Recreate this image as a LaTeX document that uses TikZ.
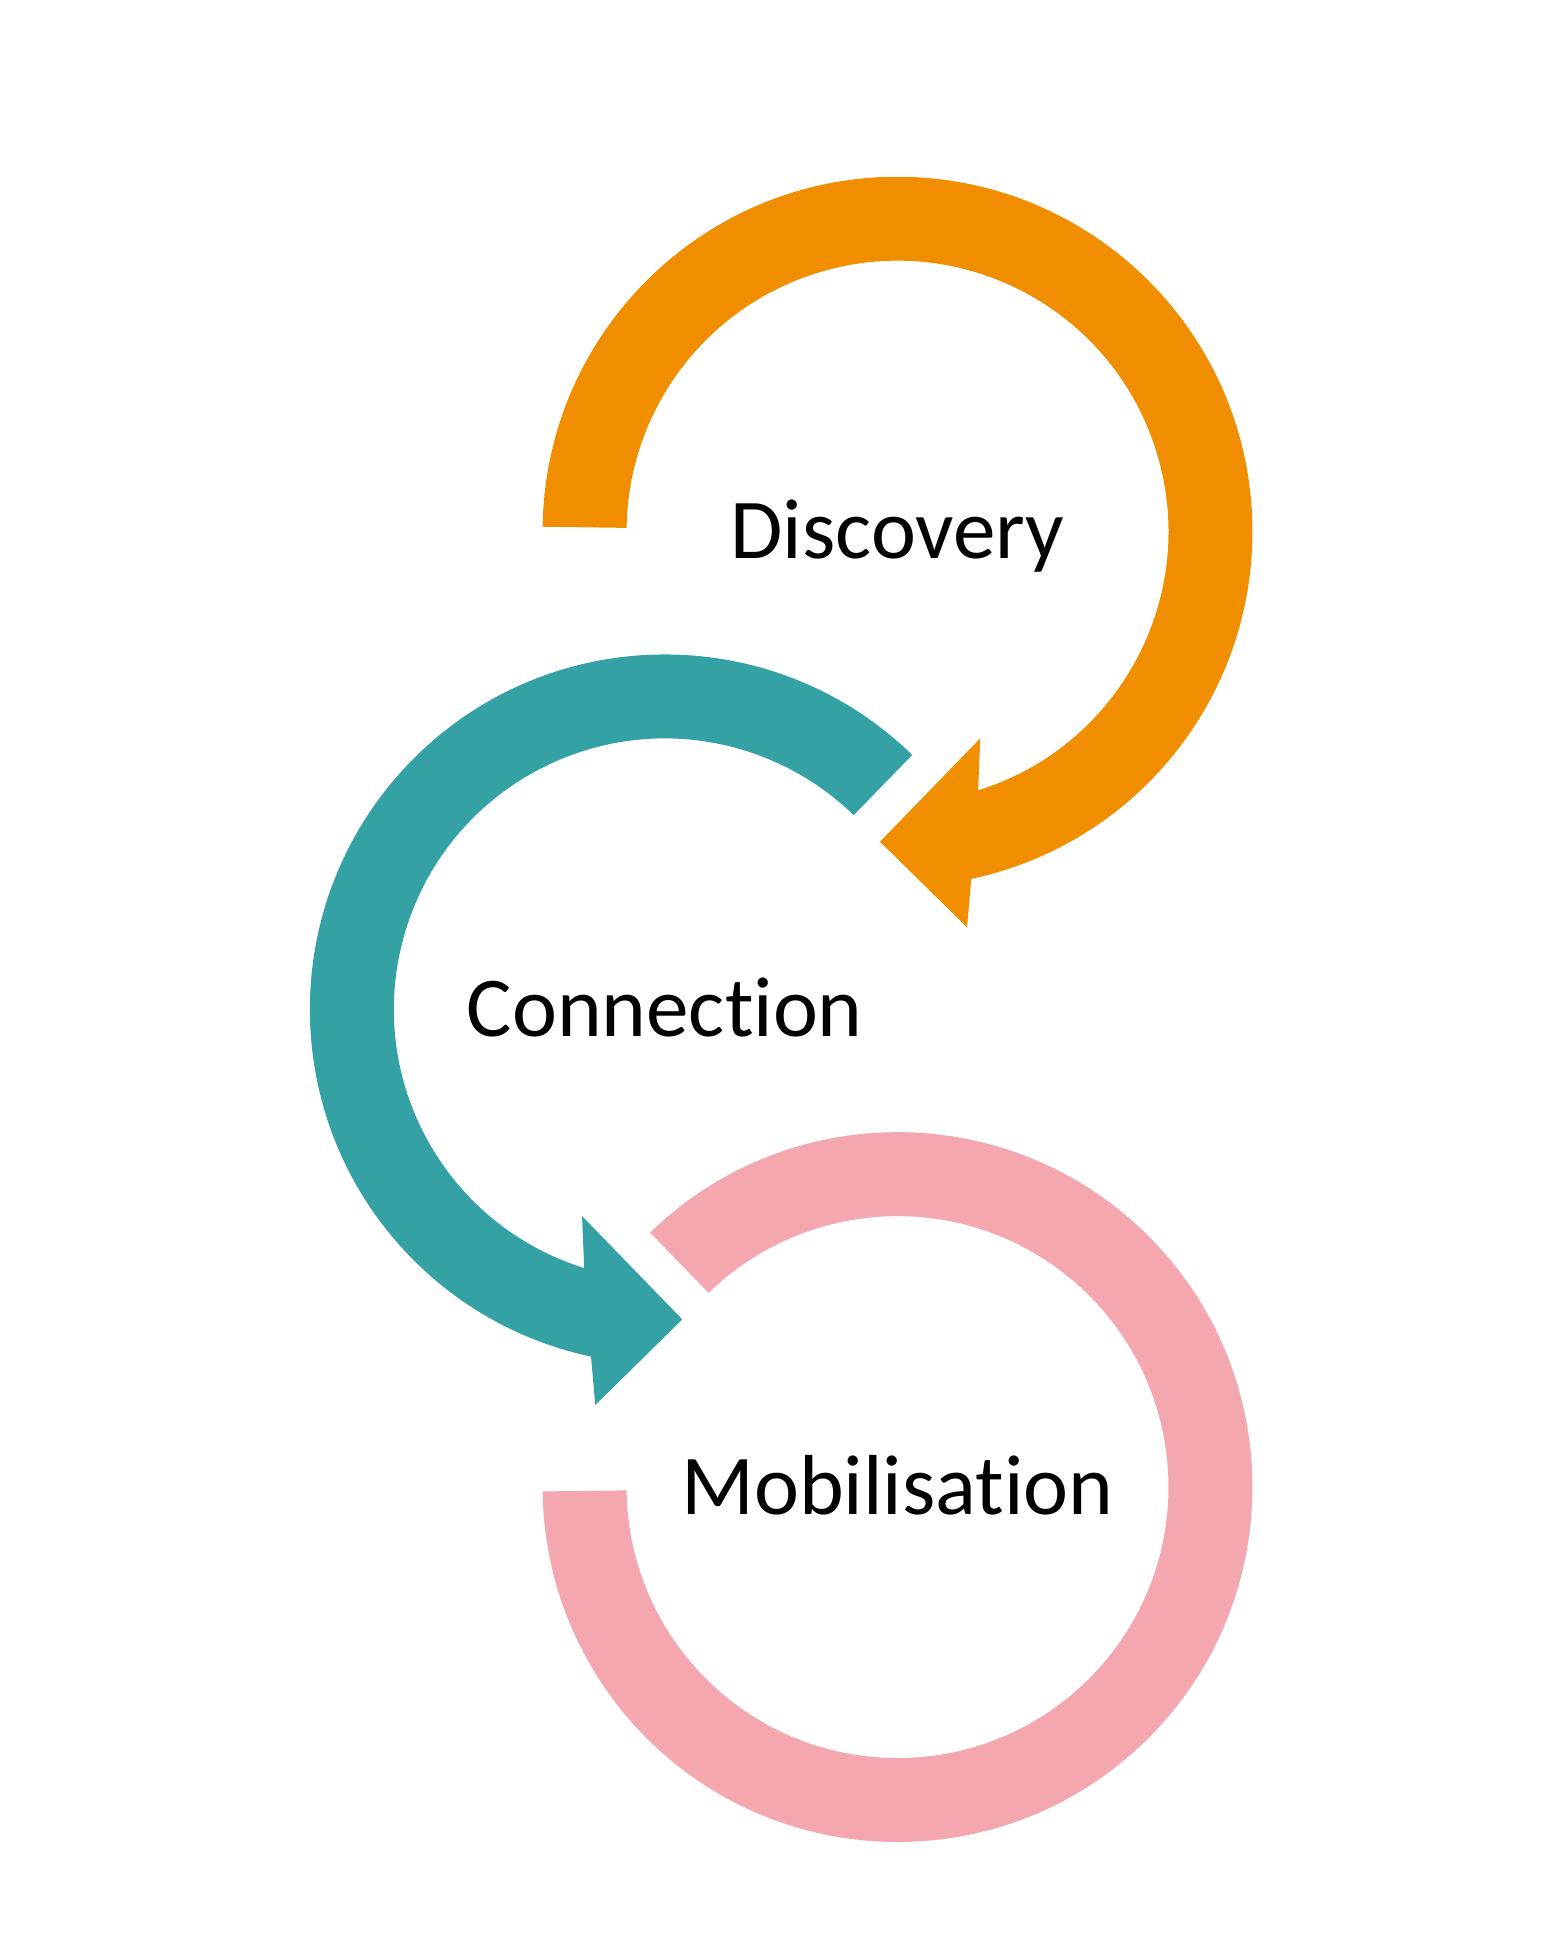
\documentclass[tikz,border=0pt]{standalone}
\usepackage{fontspec}
\setmainfont{Carlito}[Ligatures=NoCommon]
\definecolor{disco}{HTML}{F18E00}
\definecolor{conn}{HTML}{34A1A4}
\definecolor{mobil}{HTML}{F4A7AE}
\newcommand{\nolig}{\kern0pt } % keeps t and i apart
\tikzset{lbl/.style={anchor=base, yshift=-0.54cm, font=\fontsize{48.5}{58}\selectfont}}
\begin{document}
\begin{tikzpicture}[x=0.02cm, y=0.02cm] % 1 unit = 1 pixel
  \useasboundingbox (0,0) rectangle (1562,1956); % page size
  \coordinate (D) at (897.5,1424.3); % centres of the rings
  \coordinate (C) at (664.8,946.6);
  \coordinate (M) at (897.5,468.9);
  % Discovery: clockwise ring with arrowhead at bottom
  \begin{scope}[shift={(D)}]
    \fill[disco] (179.2:5.42cm) -- (179.2:7.1cm) arc[start angle=179.2, end angle=-78, radius=7.1cm]
      -- (69.5,-395.6) -- (-17.5,-310) -- (82.8,-206.6) -- (-72.7:5.42cm)
      arc[start angle=-72.7, end angle=179.2, radius=5.42cm] -- cycle;
  \end{scope}
  % Connection: mirror image, counterclockwise
  \begin{scope}[shift={(C)}]
    \fill[conn] (45.8:5.42cm) -- (45.8:7.1cm) arc[start angle=45.8, end angle=258, radius=7.1cm]
      -- (-69.5,-395.6) -- (17.5,-310) -- (-82.8,-206.6) -- (252.7:5.42cm)
      arc[start angle=252.7, end angle=45.8, radius=5.42cm] -- cycle;
  \end{scope}
  % Mobilisation: open ring, no arrowhead
  \begin{scope}[shift={(M)}]
    \fill[mobil] (134.2:5.42cm) -- (134.2:7.1cm) arc[start angle=134.2, end angle=-179.3, radius=7.1cm]
      -- (-179.3:5.42cm) arc[start angle=-179.3, end angle=134.2, radius=5.42cm] -- cycle;
  \end{scope}
  \node[lbl] (dtext) at (D) {Discovery};
  \node[lbl] (ctext) at (C) {Connect\nolig ion};
  \node[lbl] (mtext) at (M) {Mobilisat\nolig ion};
\end{tikzpicture}
\end{document}
